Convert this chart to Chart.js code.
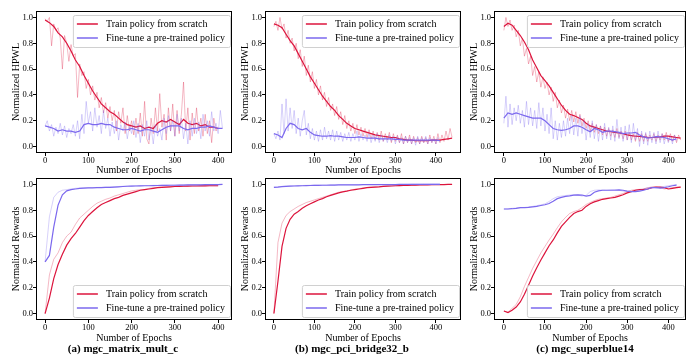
<!DOCTYPE html>
<html>
<head>
<meta charset="utf-8">
<script src="https://cdn.jsdelivr.net/npm/chart.js@4.4.0/dist/chart.umd.min.js"></script>
<style>
  body { margin: 0; background: #fff; }
  #wrap { position: relative; width: 688px; height: 360px; overflow: hidden; }
  canvas { position: absolute; }
  .cap { position: absolute; top: 342px; font: bold 11px "Liberation Serif", serif; text-align: center; color: #000; }
</style>
</head>
<body>
<div id="wrap">
  <canvas id="a1"></canvas><canvas id="b1"></canvas><canvas id="c1"></canvas>
  <canvas id="a2"></canvas><canvas id="b2"></canvas><canvas id="c2"></canvas>
  <div class="cap" style="left:43px;width:160px">(a) mgc_matrix_mult_c</div>
  <div class="cap" style="left:272px;width:160px">(b) mgc_pci_bridge32_b</div>
  <div class="cap" style="left:505px;width:160px">(c) mgc_superblue14</div>
</div>
<script>
// tick labels
const xTicks = [0, 100, 200, 300, 400];
const yTicks = [0, 0.2, 0.4, 0.6, 0.8, 1.0];
const legendLabels = ['Train policy from scratch', 'Fine-tune a pre-trained policy'];

// top row, HPWL. raw arrays every 5 epochs, smoothed every 10
const hpwlA_scratchRaw = [0.99,0.97,1.0,0.78,0.95,0.90,0.92,0.84,0.60,0.86,
  0.80,0.66,0.79,0.70,0.72,0.38,0.64,0.55,0.58,0.45,
  0.52,0.40,0.47,0.36,0.42,0.30,0.38,0.26,0.34,0.22,
  0.31,0.20,0.28,0.12,0.27,0.18,0.30,0.10,0.24,0.12,
  0.20,0.09,0.22,0.10,0.26,0.08,0.35,0.06,0.02,0.22,
  0.10,0.30,0.12,0.41,0.15,0.25,0.05,0.30,0.12,0.33,
  0.08,0.28,0.10,0.25,0.50,0.12,0.30,0.05,0.26,0.10,
  0.30,0.12,0.22,0.08,0.25,0.10,0.20,0.03,0.22,0.12,0.15];
const hpwlA_scratchSmooth = [0.98,0.96,0.93,0.88,0.85,0.80,0.74,0.67,0.62,0.55,
  0.49,0.43,0.38,0.33,0.30,0.27,0.25,0.22,0.19,0.17,
  0.16,0.15,0.16,0.14,0.15,0.14,0.18,0.20,0.19,0.21,
  0.19,0.17,0.21,0.18,0.17,0.18,0.16,0.17,0.15,0.15,0.14];
const hpwlA_fineRaw = [0.16,0.20,0.12,0.17,0.08,0.15,0.10,0.18,0.09,0.16,
  0.07,0.14,0.10,0.17,0.08,0.20,0.06,0.25,0.10,0.35,
  0.18,0.27,0.12,0.30,0.15,0.24,0.10,0.28,0.14,0.22,
  0.08,0.19,0.10,0.20,0.05,0.17,0.12,0.19,0.06,0.16,
  0.10,0.20,0.07,0.18,0.03,0.17,0.08,0.20,0.05,0.15,
  0.02,0.17,0.08,0.14,0.05,0.22,0.10,0.24,0.12,0.20,
  0.08,0.25,0.12,0.22,0.06,0.18,0.02,0.20,0.08,0.22,
  0.10,0.19,0.06,0.25,0.12,0.20,0.08,0.27,0.12,0.18,
  0.10,0.28,0.14];
const hpwlA_fineSmooth = [0.16,0.15,0.14,0.12,0.13,0.12,0.12,0.11,0.12,0.17,
  0.18,0.17,0.17,0.18,0.17,0.17,0.15,0.14,0.13,0.13,
  0.14,0.13,0.12,0.13,0.13,0.12,0.11,0.13,0.15,0.16,
  0.16,0.16,0.14,0.13,0.14,0.14,0.15,0.15,0.16,0.15,0.14,0.14];

const hpwlB_scratchRaw = [0.93,0.97,0.90,1.0,0.91,0.95,0.84,0.90,0.80,0.84,
  0.74,0.80,0.68,0.75,0.62,0.70,0.55,0.63,0.50,0.58,
  0.45,0.52,0.40,0.47,0.36,0.42,0.31,0.38,0.28,0.33,
  0.24,0.31,0.21,0.27,0.17,0.24,0.14,0.20,0.12,0.18,
  0.10,0.17,0.09,0.15,0.08,0.14,0.07,0.13,0.06,0.12,
  0.05,0.11,0.05,0.12,0.04,0.10,0.05,0.11,0.03,0.10,
  0.04,0.09,0.03,0.10,0.02,0.08,0.03,0.09,0.02,0.08,
  0.03,0.07,0.02,0.08,0.03,0.07,0.02,0.09,0.03,0.08,
  0.02,0.10,0.03,0.09,0.04,0.12,0.05,0.14,0.07];
const hpwlB_scratchSmooth = [0.95,0.94,0.92,0.87,0.82,0.78,0.72,0.66,0.60,0.54,
  0.49,0.44,0.39,0.35,0.31,0.28,0.24,0.21,0.18,0.16,
  0.14,0.13,0.12,0.11,0.10,0.09,0.085,0.08,0.075,0.07,
  0.07,0.06,0.055,0.05,0.05,0.045,0.045,0.045,0.045,0.05,
  0.05,0.05,0.055,0.06,0.065];
const hpwlB_fineRaw = [0.10,0.06,0.12,0.05,0.33,0.10,0.37,0.12,0.30,0.14,
  0.28,0.10,0.22,0.08,0.20,0.28,0.09,0.18,0.06,0.14,
  0.05,0.12,0.04,0.13,0.05,0.15,0.06,0.12,0.05,0.13,
  0.04,0.12,0.05,0.11,0.04,0.10,0.05,0.11,0.04,0.10,
  0.05,0.12,0.04,0.10,0.05,0.09,0.04,0.10,0.03,0.09,
  0.04,0.10,0.03,0.09,0.04,0.08,0.03,0.09,0.04,0.08,
  0.02,0.08,0.03,0.07,0.02,0.08,0.03,0.07,0.02,0.07,
  0.01,0.08,0.02,0.07,0.03,0.08,0.02,0.07,0.03,0.06,
  0.02,0.07,0.04];
const hpwlB_fineSmooth = [0.10,0.09,0.07,0.14,0.18,0.17,0.14,0.13,0.14,0.11,
  0.09,0.085,0.08,0.08,0.085,0.08,0.08,0.075,0.07,0.07,
  0.07,0.075,0.07,0.065,0.065,0.065,0.06,0.06,0.06,0.06,
  0.055,0.055,0.05,0.05,0.05,0.05,0.05,0.05,0.05,0.05,0.05,0.045];

const hpwlC_scratchRaw = [0.90,1.0,0.93,0.98,0.90,0.94,0.85,0.90,0.78,0.84,
  0.70,0.76,0.64,0.70,0.55,0.62,0.50,0.58,0.46,0.54,
  0.45,0.50,0.40,0.46,0.35,0.42,0.30,0.36,0.26,0.32,
  0.22,0.29,0.20,0.28,0.19,0.27,0.18,0.25,0.16,0.22,
  0.14,0.20,0.12,0.18,0.11,0.17,0.10,0.16,0.09,0.15,
  0.08,0.14,0.08,0.13,0.07,0.14,0.07,0.12,0.06,0.12,
  0.05,0.11,0.05,0.10,0.04,0.11,0.04,0.10,0.04,0.10,
  0.04,0.09,0.05,0.10,0.04,0.09,0.05,0.10,0.05,0.11,
  0.04,0.10,0.04,0.09,0.03,0.09,0.05];
const hpwlC_scratchSmooth = [0.93,0.955,0.94,0.90,0.86,0.81,0.75,0.67,0.61,0.55,
  0.51,0.47,0.42,0.37,0.32,0.28,0.25,0.24,0.225,0.21,
  0.18,0.16,0.15,0.14,0.13,0.12,0.115,0.11,0.105,0.10,
  0.09,0.085,0.08,0.078,0.075,0.072,0.07,0.072,0.075,0.08,
  0.08,0.075,0.07,0.065];
const hpwlC_fineRaw = [0.18,0.39,0.15,0.33,0.17,0.30,0.20,0.32,0.18,0.28,
  0.15,0.35,0.17,0.30,0.16,0.28,0.14,0.34,0.16,0.30,
  0.12,0.25,0.10,0.30,0.06,0.20,0.05,0.18,0.07,0.20,
  0.08,0.22,0.10,0.24,0.09,0.22,0.08,0.24,0.10,0.20,
  0.05,0.18,0.07,0.20,0.06,0.17,0.04,0.16,0.05,0.18,
  0.06,0.15,0.05,0.16,0.04,0.21,0.06,0.15,0.04,0.16,
  0.05,0.17,0.03,0.18,0.05,0.14,0.00,0.12,0.02,0.11,
  0.01,0.12,0.03,0.11,0.02,0.12,0.03,0.10,0.02,0.09,
  0.03,0.08,0.02,0.09,0.04];
const hpwlC_fineSmooth = [0.22,0.26,0.25,0.26,0.25,0.24,0.23,0.22,0.22,0.22,
  0.20,0.17,0.14,0.13,0.125,0.13,0.14,0.16,0.16,0.15,
  0.13,0.115,0.14,0.13,0.11,0.12,0.12,0.115,0.11,0.10,
  0.105,0.105,0.11,0.09,0.075,0.065,0.07,0.077,0.075,0.07,
  0.06,0.05,0.06];

// bottom row, rewards. all every 10 epochs
const rewA_scratchRaw = [0.0,0.30,0.42,0.47,0.55,0.60,0.63,0.69,0.74,0.77,
  0.80,0.83,0.855,0.87,0.885,0.895,0.91,0.92,0.93,0.94,
  0.95,0.955,0.96,0.96,0.97,0.975,0.978,0.98,0.982,0.983,
  0.985,0.986,0.987,0.988,0.988,0.989,0.989,0.99,0.99,0.99,0.99];
const rewA_scratchSmooth = [0.0,0.12,0.27,0.38,0.46,0.53,0.58,0.62,0.67,0.72,
  0.76,0.79,0.82,0.845,0.86,0.875,0.89,0.90,0.915,0.925,
  0.935,0.945,0.955,0.96,0.965,0.97,0.975,0.978,0.98,0.982,
  0.984,0.985,0.986,0.987,0.988,0.988,0.989,0.989,0.99,0.99,0.99];
const rewA_fineRaw = [0.40,0.75,0.90,0.94,0.955,0.96,0.965,0.97,0.972,0.974,
  0.975,0.976,0.977,0.978,0.979,0.98,0.982,0.984,0.986,0.988,
  0.989,0.99,0.99,0.991,0.992,0.993,0.993,0.994,0.995,0.995,
  0.996,0.996,0.997,0.997,0.998,0.998,0.999,0.999,1.0,1.0,1.0,1.0];
const rewA_fineSmooth = [0.40,0.45,0.67,0.84,0.92,0.95,0.96,0.965,0.97,0.972,
  0.973,0.974,0.975,0.976,0.977,0.978,0.98,0.982,0.984,0.986,
  0.987,0.988,0.989,0.99,0.99,0.991,0.992,0.993,0.993,0.994,
  0.994,0.995,0.995,0.996,0.996,0.997,0.997,0.998,0.998,0.999,0.999,1.0];

const rewB_scratchRaw = [0.0,0.55,0.70,0.76,0.79,0.81,0.83,0.845,0.86,0.87,
  0.88,0.89,0.90,0.91,0.92,0.93,0.94,0.945,0.95,0.958,
  0.963,0.968,0.973,0.977,0.98,0.982,0.984,0.986,0.988,0.989,
  0.99,0.991,0.992,0.993,0.994,0.995,0.996,0.997,0.998,0.998,
  0.999,0.999,1.0,1.0,1.0];
const rewB_scratchSmooth = [0.0,0.25,0.52,0.66,0.73,0.77,0.79,0.815,0.835,0.85,
  0.865,0.88,0.89,0.905,0.915,0.925,0.935,0.942,0.948,0.955,
  0.96,0.965,0.97,0.975,0.978,0.98,0.982,0.985,0.987,0.988,
  0.99,0.991,0.992,0.993,0.994,0.995,0.996,0.997,0.997,0.998,
  0.998,0.999,0.999,1.0,1.0];
const rewB_fineRaw = [0.98,0.982,0.985,0.987,0.988,0.99,0.991,0.992,0.993,0.994,
  0.995,0.995,0.996,0.996,0.997,0.997,0.997,0.998,0.998,0.998,
  0.998,0.999,0.999,0.999,0.999,0.999,1.0,1.0,1.0,1.0,
  1.0,1.0,1.0,1.0,1.002,1.002,1.002,1.003,1.003,1.004,1.004,1.004];
const rewB_fineSmooth = [0.978,0.98,0.983,0.985,0.987,0.988,0.989,0.99,0.991,0.992,
  0.993,0.993,0.994,0.994,0.995,0.995,0.996,0.996,0.996,0.997,
  0.997,0.997,0.998,0.998,0.998,0.998,0.999,0.999,0.999,0.999,
  0.999,1.0,1.0,1.0,1.0,1.0,1.0,1.0,1.0,1.0,1.0,1.0];

const rewC_scratchRaw = [0.02,0.01,0.04,0.07,0.13,0.21,0.28,0.35,0.41,0.47,
  0.52,0.57,0.615,0.665,0.71,0.745,0.775,0.79,0.80,0.82,
  0.845,0.86,0.875,0.885,0.89,0.895,0.90,0.91,0.92,0.93,
  0.945,0.955,0.96,0.962,0.965,0.975,0.98,0.98,0.975,0.965,
  0.97,0.975,0.98,0.98];
const rewC_scratchSmooth = [0.02,0.008,0.025,0.05,0.09,0.15,0.22,0.29,0.355,0.415,
  0.47,0.525,0.57,0.625,0.675,0.71,0.745,0.775,0.79,0.80,
  0.83,0.85,0.865,0.875,0.885,0.89,0.895,0.90,0.91,0.92,
  0.935,0.945,0.955,0.96,0.962,0.965,0.975,0.98,0.98,0.975,
  0.965,0.97,0.975,0.98];
const rewC_fineRaw = [0.81,0.81,0.815,0.818,0.82,0.822,0.826,0.83,0.836,0.842,
  0.85,0.868,0.89,0.905,0.91,0.914,0.918,0.92,0.918,0.91,
  0.915,0.945,0.955,0.958,0.956,0.955,0.958,0.96,0.955,0.948,
  0.944,0.944,0.948,0.955,0.965,0.975,0.978,0.972,0.98,0.985,
  0.99,0.995,1.0];
const rewC_fineSmooth = [0.81,0.81,0.812,0.815,0.82,0.82,0.822,0.826,0.83,0.837,
  0.843,0.852,0.87,0.89,0.90,0.908,0.912,0.918,0.92,0.918,
  0.91,0.915,0.94,0.95,0.955,0.955,0.955,0.955,0.958,0.955,
  0.948,0.945,0.945,0.948,0.955,0.965,0.975,0.975,0.972,0.975,
  0.982,0.99,0.995];

const RED = 'rgb(220,20,60)', RED_RAW = 'rgba(220,20,60,0.3)';
const PUR = 'rgb(123,104,238)', PUR_RAW = 'rgba(123,104,238,0.3)';
const FONT = '"Liberation Serif", serif';

const pts = (vals, step) => vals.map((v, i) => ({ x: i * step, y: v }));

// frame box + matplotlib-like legend inside the axes
const boxAndLegend = {
  id: 'boxAndLegend',
  afterDatasetsDraw(chart, args, opts) {
    const { ctx, chartArea: a } = chart;
    ctx.save();
    ctx.strokeStyle = '#000';
    ctx.lineWidth = 1;
    ctx.strokeRect(Math.round(a.left) + 0.5, Math.round(a.top) + 0.5,
      Math.round(a.right - a.left) - 1, Math.round(a.bottom - a.top) - 1);

    ctx.font = '10px ' + FONT;
    const tw = Math.max(...legendLabels.map(t => ctx.measureText(t).width));
    const bw = 4 + 21 + 8 + tw + 5, bh = 32;
    const bx = a.right - 2 - bw;
    const by = opts.bottom ? a.bottom - 3 - bh : a.top + 4;
    ctx.fillStyle = 'rgba(255,255,255,0.85)';
    ctx.strokeStyle = '#d0d0d0';
    ctx.beginPath();
    ctx.roundRect(bx + 0.5, by + 0.5, bw, bh, 2);
    ctx.fill();
    ctx.stroke();
    [RED, PUR].forEach((c, i) => {
      const y = by + 9 + i * 14;
      ctx.strokeStyle = c;
      ctx.lineWidth = 1.5;
      ctx.beginPath();
      ctx.moveTo(bx + 4, y);
      ctx.lineTo(bx + 25, y);
      ctx.stroke();
      ctx.fillStyle = '#000';
      ctx.textBaseline = 'middle';
      ctx.fillText(legendLabels[i], bx + 33, y + 0.5);
    });
    ctx.restore();
  }
};

function makePanel(id, left, top, w, h, padTop, xH, xMin, xMax, yTitle, legendBottom, s, rawStep) {
  const cv = document.getElementById(id);
  cv.width = w; cv.height = h;
  cv.style.left = left + 'px'; cv.style.top = top + 'px';
  const line = (data, color, width, order) => ({
    data, borderColor: color, borderWidth: width, pointRadius: 0, tension: 0, fill: false, order
  });
  new Chart(cv, {
    type: 'line',
    data: {
      datasets: [
        line(pts(s[0], rawStep), RED_RAW, 1, 4),
        line(pts(s[1], 10), RED, 1.2, 3),
        line(pts(s[2], rawStep), PUR_RAW, 1, 2),
        line(pts(s[3], 10), PUR, 1.2, 1)
      ]
    },
    options: {
      responsive: false,
      animation: false,
      events: [],
      layout: { padding: { left: 0, right: 1, top: padTop, bottom: 0 } },
      plugins: { legend: { display: false }, tooltip: { enabled: false }, boxAndLegend: { bottom: legendBottom } },
      scales: {
        x: {
          type: 'linear', min: xMin, max: xMax,
          afterBuildTicks: sc => { sc.ticks = xTicks.map(v => ({ value: v })); },
          afterFit: sc => { sc.height = xH; },
          grid: { drawOnChartArea: false, drawTicks: true, tickLength: 3, color: '#000' },
          border: { display: false },
          ticks: { font: { family: FONT, size: 8.5 }, color: '#000', padding: 0, maxRotation: 0, autoSkip: false },
          title: { display: true, text: 'Number of Epochs', font: { family: FONT, size: 10 }, color: '#000', padding: 0 }
        },
        y: {
          min: -0.05, max: 1.05,
          afterBuildTicks: sc => { sc.ticks = yTicks.map(v => ({ value: v })); },
          afterFit: sc => { sc.width = 36; },
          grid: { drawOnChartArea: false, drawTicks: true, tickLength: 3, color: '#000' },
          border: { display: false },
          ticks: { font: { family: FONT, size: 8.5 }, color: '#000', padding: 0, callback: v => v.toFixed(1) },
          title: { display: true, text: yTitle, font: { family: FONT, size: 10 }, color: '#000', padding: { top: 10, bottom: 0 } }
        }
      }
    },
    plugins: [boxAndLegend]
  });
}

makePanel('a1', 0, 0, 233, 176, 11, 23, -21, 432, 'Normalized HPWL', false,
  [hpwlA_scratchRaw, hpwlA_scratchSmooth, hpwlA_fineRaw, hpwlA_fineSmooth], 5);
makePanel('b1', 229, 0, 233, 176, 11, 23, -22, 462, 'Normalized HPWL', false,
  [hpwlB_scratchRaw, hpwlB_scratchSmooth, hpwlB_fineRaw, hpwlB_fineSmooth], 5);
makePanel('c1', 458, 0, 229, 176, 11, 23, -24, 443, 'Normalized HPWL', false,
  [hpwlC_scratchRaw, hpwlC_scratchSmooth, hpwlC_fineRaw, hpwlC_fineSmooth], 5);
makePanel('a2', 0, 172, 233, 172, 6, 24, -21, 432, 'Normalized Rewards', true,
  [rewA_scratchRaw, rewA_scratchSmooth, rewA_fineRaw, rewA_fineSmooth], 10);
makePanel('b2', 229, 172, 233, 172, 6, 24, -22, 462, 'Normalized Rewards', true,
  [rewB_scratchRaw, rewB_scratchSmooth, rewB_fineRaw, rewB_fineSmooth], 10);
makePanel('c2', 458, 172, 229, 172, 6, 24, -24, 443, 'Normalized Rewards', true,
  [rewC_scratchRaw, rewC_scratchSmooth, rewC_fineRaw, rewC_fineSmooth], 10);
</script>
</body>
</html>
